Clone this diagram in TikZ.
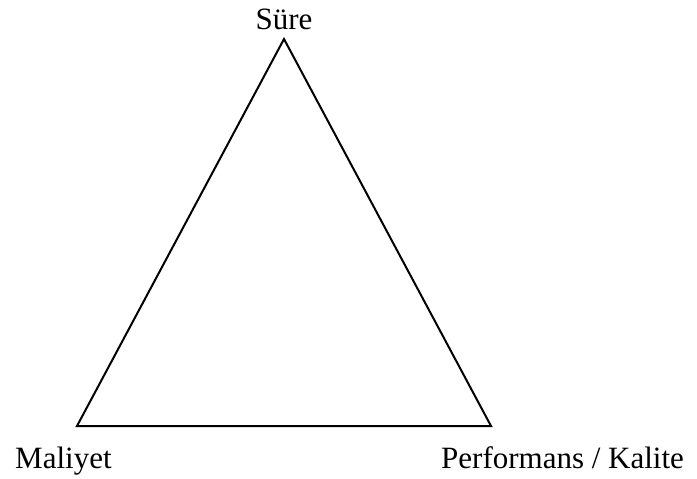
\documentclass[tikz,border=0pt]{standalone}
\usepackage{fontspec}
\setmainfont{Liberation Serif}
\begin{document}
\begin{tikzpicture}[x=1pt,y=-1pt,
  lbl/.style={inner sep=0pt,font=\fontsize{31}{37}\selectfont},
  edge/.style={line width=2pt,line join=miter}]
\useasboundingbox (0,0) rectangle (697,479);
\coordinate (top) at (284,39);
\coordinate (bl) at (77,426);
\coordinate (br) at (491,426);
\draw[edge] (top) -- (br) -- (bl) -- cycle;
\node[lbl,anchor=base] (sure) at (284,29) {Süre};
\node[lbl,anchor=base west] (maliyet) at (15,468) {Maliyet};
\node[lbl,anchor=base west] (perf) at (441,468) {Performans / Kalite};
\end{tikzpicture}
\end{document}
